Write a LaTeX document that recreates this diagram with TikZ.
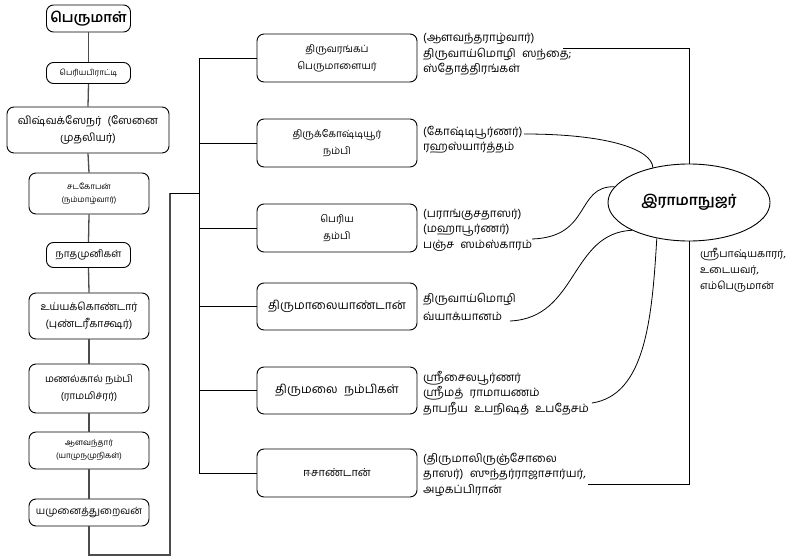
\documentclass[tikz,border=0pt]{standalone}
\usepackage{fontspec}
\setmainfont[Script=Tamil]{Hind Madurai}
\usetikzlibrary{shapes.geometric}
\newcommand\twsp{\hspace{0.55em}}
\begin{document}
\begin{tikzpicture}[x=1pt,y=-1pt,
 box/.style={draw=black, line width=0.9pt, rounded corners=7pt, align=center, inner sep=1pt, text=black},
 lconn/.style={draw=black!70, line width=1.3pt},
 conn/.style={draw=black, line width=0.8pt},
 note/.style={anchor=base west, align=left, inner sep=0pt, font=\fontsize{11.5}{15.5}\selectfont},
 fsmall/.style={font=\fontsize{8}{13}\selectfont},
 fmid/.style={font=\fontsize{10}{17}\selectfont},
 fbig/.style={font=\fontsize{11}{17}\selectfont},
 fhuge/.style={font=\fontsize{12}{16}\selectfont},
]
\useasboundingbox (0,0) rectangle (787,559);
\fill[white] (0,0) rectangle (787,559);
% left column
\node[box, minimum width=84pt, minimum height=27pt, font=\bfseries\fontsize{14}{16}\selectfont] (L1) at (88.5,18.5) {பெருமாள்};
\node[box, minimum width=84pt, minimum height=21pt, fsmall] (L2) at (88.5,73) {பெரியபிராட்டி};
\node[box, minimum width=162pt, minimum height=46pt, fbig] (L3) at (88,130) {விஷ்வக்ஸேநர்\twsp(ஸேனை\\முதலியர்)};
\node[box, minimum width=120pt, minimum height=41pt, fsmall] (L4) at (89,193.5) {சடகோபன்\\(நம்மாழ்வார்)};
\node[box, minimum width=84pt, minimum height=25pt, fmid] (L5) at (88.5,255) {நாதமுனிகள்};
\node[box, minimum width=120pt, minimum height=46pt, font=\fontsize{10.5}{17}\selectfont] (L6) at (89,316) {உய்யக்கொண்டார்\\(புண்டரீகாக்ஷர்)};
\node[box, minimum width=120pt, minimum height=49pt, fmid] (L7) at (89,388.5) {மணல்கால் நம்பி\\(ராமமிச்ரர்)};
\node[box, minimum width=120pt, minimum height=37pt, fsmall] (L8) at (89,450.5) {ஆளவந்தார்\\(யாமுநமுநிகள்)};
\node[box, minimum width=120pt, minimum height=27pt, fmid] (L9) at (89,512.5) {யமுனைத்துறைவன்};
\foreach \a/\b in {L1/L2,L2/L3,L3/L4,L4/L5,L5/L6,L6/L7,L7/L8,L8/L9}
  \draw[lconn] (\a.south) -- (\b.north);
% middle boxes
\node[box, minimum width=160pt, minimum height=48pt, fmid] (M1) at (337,58) {திருவரங்கப்\\பெருமாளையர்};
\node[box, minimum width=160pt, minimum height=48pt, fmid] (M2) at (337,143) {திருக்கோஷ்டியூர்\\நம்பி};
\node[box, minimum width=160pt, minimum height=48pt, fmid] (M3) at (337,228) {பெரிய\\தம்பி};
\node[box, minimum width=160pt, minimum height=47pt, fhuge] (M4) at (337,306.5) {திருமாலையாண்டான்};
\node[box, minimum width=160pt, minimum height=47pt, fhuge] (M5) at (337,390.5) {திருமலை\twsp நம்பிகள்};
\node[box, minimum width=160pt, minimum height=48pt, font=\fontsize{11}{16}\selectfont] (M6) at (337,473) {ஈசாண்டான்};
% trunk
\coordinate (ttop) at (199,58);
\coordinate (tbot) at (199,473);
\coordinate (c1) at (170,555);
\coordinate (c2) at (170,193);
\draw[conn] (ttop) -- (tbot);
\foreach \m in {M1,M2,M3,M4,M5,M6}
  \draw[conn] (\m.west) -- (\m.west -| ttop);
\draw[lconn] (L9.south) -- (L9.south |- c1) -- (c1) -- (c2);
\draw[conn] (c2) -- (c2 -| ttop);
% notes (anchored at the baseline of their last line)
\node[note] (A1) at (423,73) {(ஆளவந்தராழ்வார்)\\திருவாய்மொழி\twsp ஸந்தை;\\ஸ்தோத்திரங்கள்};
\node[note] (A2) at (423,150.5) {(கோஷ்டிபூர்ணர்)\\ரஹஸ்யார்த்தம்};
\node[note] (A3) at (423,248) {(பராங்குசதாஸர்)\\(மஹாபூர்ணர்)\\பஞ்ச\twsp ஸம்ஸ்காரம்};
\node[note] (A4) at (423,320) {திருவாய்மொழி\\[2.5pt]வ்யாக்யானம்};
\node[note] (A5) at (423,412) {ஸ்ரீசைலபூர்ணர்\\ஸ்ரீமத்\twsp ராமாயணம்\\தாபநீய\twsp உபநிஷத்\twsp உபதேசம்};
\node[note] (A6) at (423,493) {(திருமாலிருஞ்சோலை\\தாஸர்)\twsp ஸுந்தர்ராஜாசார்யர்,\\அழகப்பிரான்};
\node[note, font=\fontsize{10.5}{16}\selectfont] (A7) at (700,289) {ஸ்ரீபாஷ்யகாரர்,\\உடையவர்,\\எம்பெருமான்};
% ellipse
\node[draw=black, line width=0.9pt, ellipse, minimum width=162pt, minimum height=77pt, inner sep=0pt, font=\bfseries\fontsize{14.5}{16}\selectfont] (R) at (689,202.5) {இராமாநுஜர்};
% connectors from notes
\coordinate (e1) at (563,48);
\coordinate (e2) at (524,134);
\coordinate (e3) at (532,239);
\coordinate (e4) at (510,321);
\coordinate (e5) at (592,403);
\coordinate (e6) at (588,484);
\draw[conn] (e1) -- (e1 -| R.north) -- (R.north);
\draw[conn] (e6) -- (e6 -| R.south) -- (R.south);
\draw[conn] (e2) .. controls (610,134) and (652,150) .. (R.136);
\draw[conn] (e3) .. controls (592,237) and (575,186) .. (R.168);
\draw[conn] (e4) .. controls (578,318) and (570,233) .. (R.206);
\draw[conn] (e5) .. controls (645,395) and (652,320) .. (R.228);
\end{tikzpicture}
\end{document}
